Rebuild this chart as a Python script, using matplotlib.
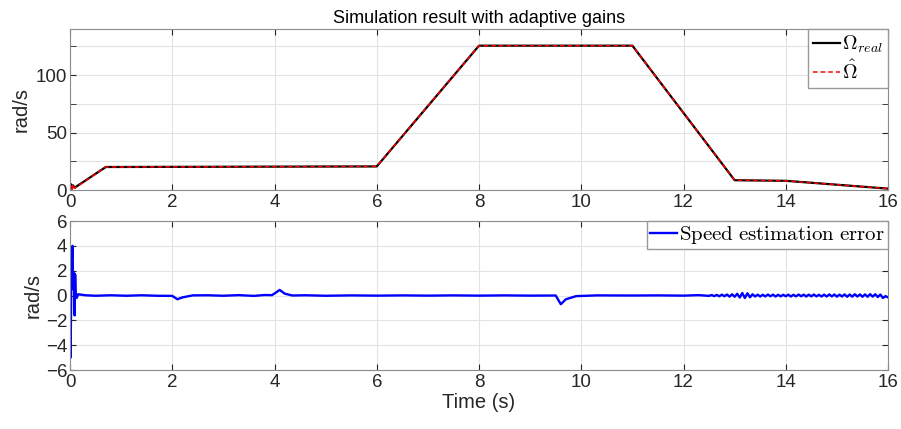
import numpy as np
import matplotlib.pyplot as plt

plt.rcParams['font.family'] = ['Liberation Sans', 'DejaVu Sans']
plt.rcParams['mathtext.fontset'] = 'cm'

# speed profile (rad/s)
t_real = [0, 0.02, 0.04, 0.06, 0.09, 0.7, 6.0, 8.0, 11.0, 13.0, 14.0, 16.0]
w_real = [0, 5.0, 1.5, 4.0, 2.0, 20.0, 20.5, 125.5, 125.5, 8.5, 8.0, 1.2]
t_est = [0, 0.02, 0.04, 0.06, 0.09, 0.7, 6.0, 8.0, 11.0, 13.0, 14.0, 16.0]
w_est = [0, 3.5, 0.5, 5.0, 1.5, 20.0, 20.5, 125.5, 125.5, 8.5, 8.0, 1.2]

# speed estimation error (rad/s), start transient and slow segments
t_err_a = [0, 0.01, 0.03, 0.05, 0.06, 0.08, 0.09, 0.10, 0.11, 0.13, 0.16, 0.3,
           0.5, 0.8, 1.1, 1.4, 1.7, 2.0, 2.1, 2.2, 2.4, 2.7, 3.0, 3.3, 3.6,
           3.8, 3.95, 4.05, 4.1, 4.2, 4.35, 4.6, 5.0, 5.5, 6.0, 6.5, 7.0, 7.5,
           8.0, 8.5, 9.0, 9.5, 9.6, 9.7, 9.9, 10.3, 11.0, 11.5, 12.0, 12.3]
e_err_a = [0, -5.0, 2.5, 4.0, 0.5, 1.8, -1.6, 1.7, 0.3, -0.2, 0.1, 0.02,
           -0.02, 0.02, -0.02, 0.02, -0.02, -0.03, -0.3, -0.15, 0.01, 0.02,
           -0.02, 0.03, -0.03, 0.04, 0.03, 0.3, 0.45, 0.15, 0.0, 0.02, -0.02,
           0.01, -0.01, 0.01, -0.01, 0.01, -0.01, 0.01, -0.01, 0.0, -0.7, -0.3,
           -0.05, 0.01, 0.0, 0.01, -0.01, 0.03]
# noisy tail
t_err_b = [12.5, 12.55, 12.6, 12.65, 12.7, 12.75, 12.8, 12.85, 12.9, 12.95,
           13.0, 13.05, 13.1, 13.15, 13.2, 13.25, 13.3, 13.35, 13.4, 13.45,
           13.5, 13.55, 13.6, 13.65, 13.7, 13.75, 13.8, 13.85, 13.9, 13.95,
           14.0, 14.05, 14.1, 14.15, 14.2, 14.25, 14.3, 14.35, 14.4, 14.45,
           14.5, 14.55, 14.6, 14.65, 14.7, 14.75, 14.8, 14.85, 14.9, 14.95,
           15.0, 15.05, 15.1, 15.15, 15.2, 15.25, 15.3, 15.35, 15.4, 15.45,
           15.5, 15.55, 15.6, 15.65, 15.7, 15.75, 15.8, 15.85, 15.9, 15.95, 16.0]
e_err_b = [-0.03, 0.04, -0.05, 0.05, -0.06, 0.07, -0.06, 0.08, -0.09, 0.1,
           -0.1, 0.14, -0.16, 0.2, -0.2, 0.18, -0.14, 0.1, -0.08, 0.07,
           -0.08, 0.06, -0.07, 0.08, -0.06, 0.07, -0.08, 0.06, -0.07, 0.06,
           -0.06, 0.07, -0.08, 0.06, -0.07, 0.08, -0.06, 0.07, -0.08, 0.07,
           -0.07, 0.08, -0.07, 0.06, -0.08, 0.07, -0.08, 0.09, -0.07, 0.08,
           -0.09, 0.07, -0.08, 0.09, -0.1, 0.08, -0.09, 0.1, -0.08, 0.09,
           -0.1, 0.09, -0.1, 0.11, -0.09, 0.1, -0.12, 0.08, -0.2, -0.05, -0.15]
t_err = t_err_a + t_err_b
e_err = e_err_a + e_err_b

x_ticks = np.arange(0, 17, 2)
tick_col = '#262626'

fig = plt.figure(figsize=(9.01, 4.29), dpi=100)
ax1 = fig.add_axes([0.0777, 0.5571, 0.9079, 0.3753])
ax2 = fig.add_axes([0.0777, 0.1375, 0.9079, 0.3473])

ax1.plot(t_real, w_real, color='black', lw=1.6, label=r'$\Omega_{real}$')
ax1.plot(t_est, w_est, color='red', lw=1.1, ls=(0, (3, 2)), label=r'$\hat{\Omega}$')
ax1.set_ylim(0, 140)
ax1.set_yticks([0, 50, 100])
ax1.set_yticks([25, 75, 125], minor=True)
ax1.set_title('Simulation result with adaptive gains', fontsize=13, color='black', pad=4)
ax1.set_ylabel('rad/s', fontsize=14.5, color=tick_col)
ax1.legend(loc='upper right', fontsize=14.5, handlelength=1.3, handletextpad=0.1,
           borderpad=0.25, borderaxespad=0, labelspacing=0.2, fancybox=False,
           edgecolor='#999999', framealpha=1)

ax2.plot(t_err, e_err, color='blue', lw=1.7, label=r'$\mathrm{Speed\ estimation\ error}$')
ax2.set_ylim(-6, 6)
ax2.set_yticks(np.arange(-6, 7, 2))
ax2.set_ylabel('rad/s', fontsize=14.5, color=tick_col, labelpad=2)
ax2.set_xlabel('Time (s)', fontsize=14.5, color=tick_col, labelpad=1)
ax2.legend(loc='upper right', fontsize=15, handlelength=1.3, handletextpad=0.1,
           borderpad=0.15, borderaxespad=0, fancybox=False,
           edgecolor='#999999', framealpha=1)

for ax in (ax1, ax2):
    ax.set_xlim(0, 16)
    ax.set_xticks(x_ticks)
    ax.grid(True, which='both', color='#e3e3e3', lw=0.8)
    ax.set_axisbelow(True)
    ax.tick_params(which='both', direction='in', top=True, right=True,
                   labelsize=13.5, colors=tick_col, length=4, pad=2)
    ax.tick_params(axis='x', pad=3)
    for s in ax.spines.values():
        s.set_color('#8c8c8c')
        s.set_linewidth(0.8)

fig.savefig('out.png', dpi=100)
